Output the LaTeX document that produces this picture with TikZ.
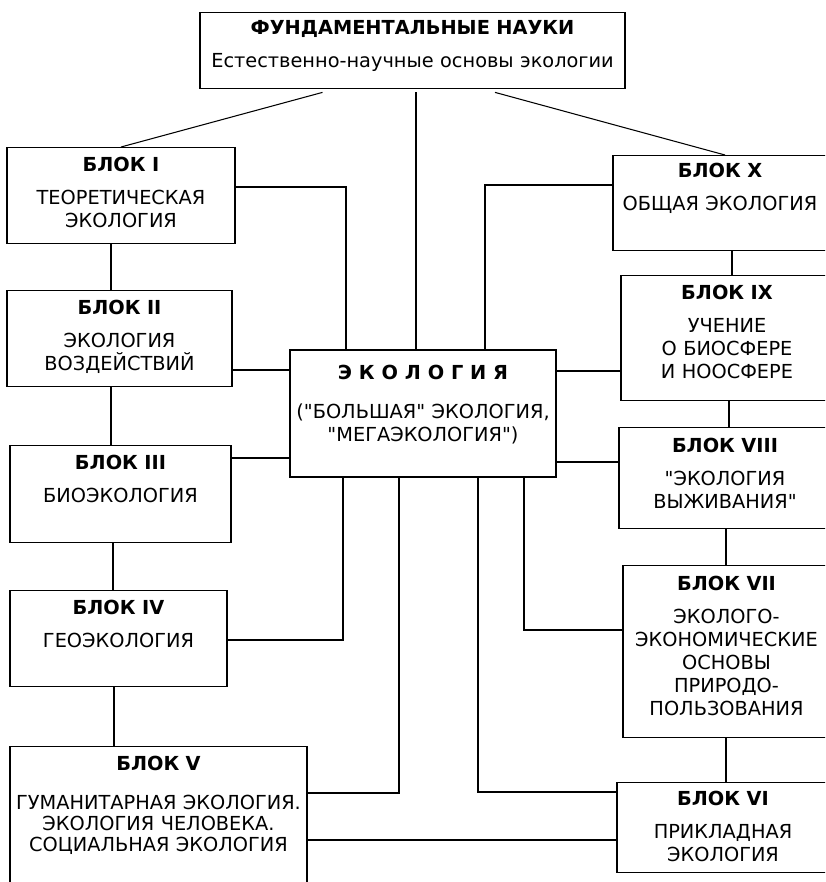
\documentclass[tikz,border=0pt]{standalone}
\usepackage{fontspec}
\setmainfont{DejaVu Sans}
\usepackage{tikz}
\usetikzlibrary{positioning}
\usetikzlibrary{calc}

% straight double quote, past the TeX mapping
\newcommand{\dq}{\XeTeXglyph\XeTeXcharglyph"22\relax}

\tikzset{
  blk/.style={draw, line width=0.8pt, anchor=north, align=center, inner xsep=0pt, inner ysep=0pt, text height=0.47cm, font=\fontsize{11}{13.1}\selectfont},
  link/.style={line width=0.6pt}
}

\begin{document}
\begin{tikzpicture}[x=0.02cm, y=-0.02cm]
			\path[use as bounding box, clip] (0,0) rectangle (825,882);
			% Top and centre
			\node[blk, text width=8.5cm, text height=0.43cm, text depth=1.09cm] (fund) at (412.5,12) {\textbf{ФУНДАМЕНТАЛЬНЫЕ НАУКИ}\\[6pt]Естественно-научные основы экологии};
			\node[blk, line width=1.4pt, text width=5.32cm, text height=0.59cm, text depth=1.95cm] (eco) at (423,349) {\textbf{Э\hspace{3.9pt}К\hspace{3.9pt}О\hspace{3.9pt}Л\hspace{3.9pt}О\hspace{3.9pt}Г\hspace{3.9pt}И\hspace{3.9pt}Я}\\[9pt](\dq БОЛЬШАЯ\dq{} ЭКОЛОГИЯ,\\\dq МЕГАЭКОЛОГИЯ\dq)};

			% Left column
			\node[blk, text width=4.56cm, text depth=1.45cm] (b1) at (121,147) {\textbf{БЛОК I}\\[6pt]ТЕОРЕТИЧЕСКАЯ\\ЭКОЛОГИЯ};
			\node[blk, text width=4.5cm, text depth=1.45cm] (b2) at (119.5,290) {\textbf{БЛОК II}\\[6pt]ЭКОЛОГИЯ\\ВОЗДЕЙСТВИЙ};
			\node[blk, text width=4.42cm, text depth=1.47cm] (b3) at (120.5,445) {\textbf{БЛОК III}\\[6pt]БИОЭКОЛОГИЯ};
			\node[blk, text width=4.34cm, text depth=1.45cm] (b4) at (118.5,590) {\textbf{БЛОК IV}\\[6pt]ГЕОЭКОЛОГИЯ};
			\node[blk, text width=5.94cm, text depth=2.61cm] (b5) at (158.5,746) {\textbf{БЛОК V}\\[9pt]ГУМАНИТАРНАЯ ЭКОЛОГИЯ.\\[-1pt]ЭКОЛОГИЯ ЧЕЛОВЕКА.\\[-1pt]СОЦИАЛЬНАЯ ЭКОЛОГИЯ};

			% Right column
			\node[blk, text width=4.28cm, text height=0.43cm, text depth=1.47cm] (b10) at (720,155) {\textbf{БЛОК X}\\[6pt]ОБЩАЯ ЭКОЛОГИЯ};
			\node[blk, text width=4.24cm, text depth=2.03cm] (b9) at (727,275) {\textbf{БЛОК IX}\\[6pt]УЧЕНИЕ\\О БИОСФЕРЕ\\И НООСФЕРЕ};
			\node[blk, text width=4.24cm, text height=0.49cm, text depth=1.53cm] (b8) at (725,427) {\textbf{БЛОК VIII}\\[6pt]\dq ЭКОЛОГИЯ\\ВЫЖИВАНИЯ\dq};
			\node[blk, text width=4.14cm, text height=0.49cm, text depth=2.95cm] (b7) at (726.5,565) {\textbf{БЛОК VII}\\[6pt]ЭКОЛОГО-\\ЭКОНОМИЧЕСКИЕ\\ОСНОВЫ\\ПРИРОДО-\\ПОЛЬЗОВАНИЯ};
			\node[blk, text width=4.24cm, text height=0.45cm, text depth=1.35cm] (b6) at (723,782) {\textbf{БЛОК VI}\\[6pt]ПРИКЛАДНАЯ\\ЭКОЛОГИЯ};

			% Lines from the top box
			\draw[link] ($(fund.south)+(-90,3)$) -- (b1.north);
			\draw[link] ($(fund.south)+(3.5,3)$) coordinate (m) -- (m |- eco.north);
			\draw[link] ($(fund.south)+(82.5,3)$) -- ($(b10.north)+(5,0)$);

			% Left blocks to the centre
			\draw[link] ($(b1.north east)+(0,40)$) -| ($(eco.north)+(-77,0)$);
			\draw[link] ($(b2.north east)+(0,80)$) coordinate (p2) -- (p2 -| eco.west);
			\draw[link] ($(b3.north east)+(0,13)$) coordinate (p3) -- (p3 -| eco.west);
			\draw[link] ($(b4.north east)+(0,50)$) -| ($(eco.south)+(-80,0)$);
			\draw[link] ($(b5.north east)+(0,47)$) -| ($(eco.south)+(-24,0)$);

			% Centre to right blocks
			\draw[link] ($(eco.north)+(62,0)$) |- ($(b10.north west)+(0,30)$);
			\draw[link] ($(eco.north east)+(0,22)$) coordinate (p9) -- (p9 -| b9.west);
			\draw[link] ($(eco.north east)+(0,113)$) coordinate (p8) -- (p8 -| b8.west);
			\draw[link] ($(eco.south)+(101,0)$) |- ($(b7.north west)+(0,65)$);
			\draw[link] ($(eco.south)+(55,0)$) |- ($(b6.north west)+(0,10)$);
			\draw[link] ($(b5.north east)+(0,94)$) coordinate (p6) -- (p6 -| b6.west);

			% Chains
			\draw[link] ($(b1.south)+(-10,0)$) -- ($(b2.north)+(-8.5,0)$);
			\draw[link] ($(b2.south)+(-8.5,0)$) -- ($(b3.north)+(-9.5,0)$);
			\draw[link] ($(b3.south)+(-7.5,0)$) -- ($(b4.north)+(-5.5,0)$);
			\draw[link] ($(b4.south)+(-4.5,0)$) -- ($(b5.north)+(-44.5,0)$);
			\draw[link] ($(b10.south)+(12,0)$) -- ($(b9.north)+(5,0)$);
			\draw[link] ($(b9.south)+(2,0)$) -- ($(b8.north)+(4,0)$);
			\draw[link] ($(b8.south)+(1,0)$) -- ($(b7.north)+(-0.5,0)$);
			\draw[link] ($(b7.south)+(-0.5,0)$) -- ($(b6.north)+(3,0)$);
		\end{tikzpicture}
\end{document}
